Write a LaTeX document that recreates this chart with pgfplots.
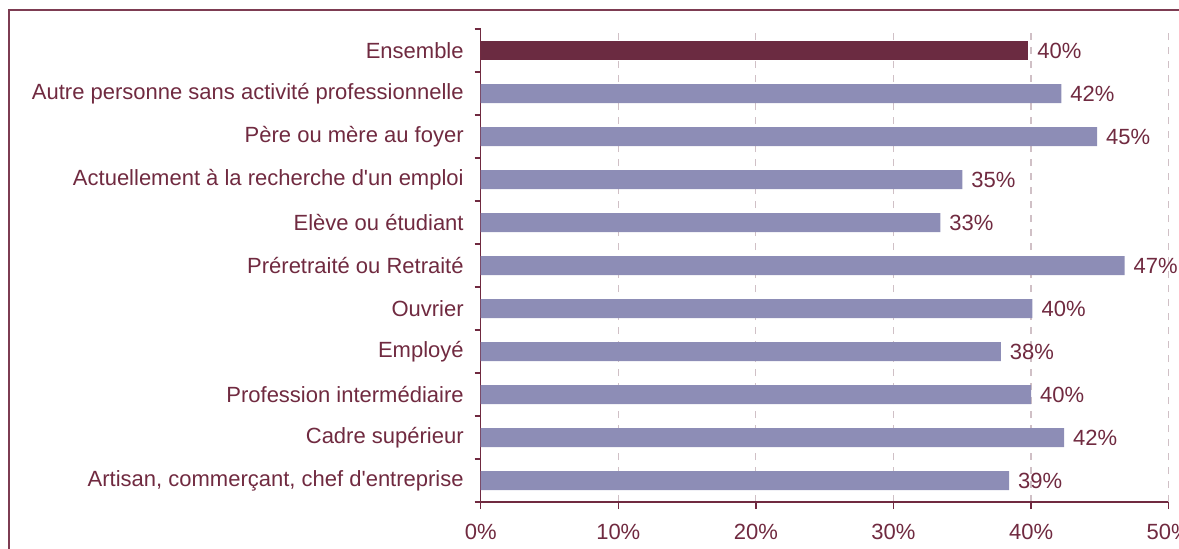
\documentclass[border=0pt]{standalone}
\usepackage{pgfplots}
\pgfplotsset{compat=1.18}
\usepackage{pgfplotstable}
\usepackage{fontspec}
\setmainfont{Liberation Sans}[Ligatures=TeXOff]
\definecolor{maroon}{RGB}{107,43,65}
\definecolor{lav}{RGB}{141,141,182}
\definecolor{txt}{RGB}{112,42,64}
\definecolor{framec}{RGB}{125,60,82}
\definecolor{gridc}{RGB}{208,192,198}
\pgfplotstableread{
y v lab
0 38.4 39
1 42.4 42
2 40.0 40
3 37.8 38
4 40.1 40
5 46.8 47
6 33.4 33
7 35.0 35
8 44.8 45
9 42.2 42
}\others
\pgfplotstableread{
y v lab
10 39.8 40
}\ensemble
\begin{document}
\begin{tikzpicture}
\useasboundingbox (0,0) rectangle (589.5pt,274pt);
\draw[color=framec, line width=0.9pt] (4.5pt,-5pt) -- (4.5pt,269pt) -- (600pt,269pt);
\begin{axis}[
  at={(240.35pt,23pt)}, anchor=south west,
  scale only axis, width=344pt, height=236.5pt,
  xmin=0, xmax=50, ymin=-0.5, ymax=10.5,
  xbar, bar width=9.5pt, bar shift=0pt,
  axis lines*=left,
  axis line style={color=txt, line width=0.7pt},
  font=\fontsize{11}{13}\selectfont,
  /pgf/number format/assume math mode=true,
  xtick={0,10,...,40},
  xticklabels={0\%,10\%,20\%,30\%,40\%},
  extra x ticks={50},
  extra x tick labels={50\%},
  extra x tick style={major grid style={draw=gridc!45, line width=0.6pt, dash pattern=on 3.5pt off 3.5pt}},
  ytick={0,...,10},
  yticklabels={{Artisan, commerçant, chef d'entreprise},{Cadre supérieur},{Profession intermédiaire},{Employé},{Ouvrier},{Préretraité ou Retraité},{Elève ou étudiant},{Actuellement à la recherche d'un emploi},{Père ou mère au foyer},{Autre personne sans activité professionnelle},{Ensemble}},
  minor ytick={-0.5,0.5,...,10.5},
  tick align=outside,
  major tick length=3.5pt,
  minor tick length=3pt,
  major y tick style={draw=none},
  minor y tick style={draw=txt, line width=0.7pt},
  major x tick style={draw=txt, line width=0.7pt},
  ticklabel style={text=txt},
  xmajorgrids=true,
  major x grid style={draw=gridc, line width=0.6pt, dash pattern=on 3.5pt off 3.5pt},
  yticklabel style={anchor=east, xshift=-1.5pt},
  xticklabel style={anchor=base, yshift=-15pt},
  nodes near coords={\pgfplotspointmeta\%},
  point meta=explicit symbolic,
  nodes near coords style={text=txt, anchor=west, xshift=1pt, font=\fontsize{11}{13}\selectfont},
]
\addplot[fill=lav, draw=none] table[x=v, y=y, meta=lab] {\others};
\addplot[fill=maroon, draw=none] table[x=v, y=y, meta=lab] {\ensemble};
\end{axis}
\end{tikzpicture}
\end{document}
